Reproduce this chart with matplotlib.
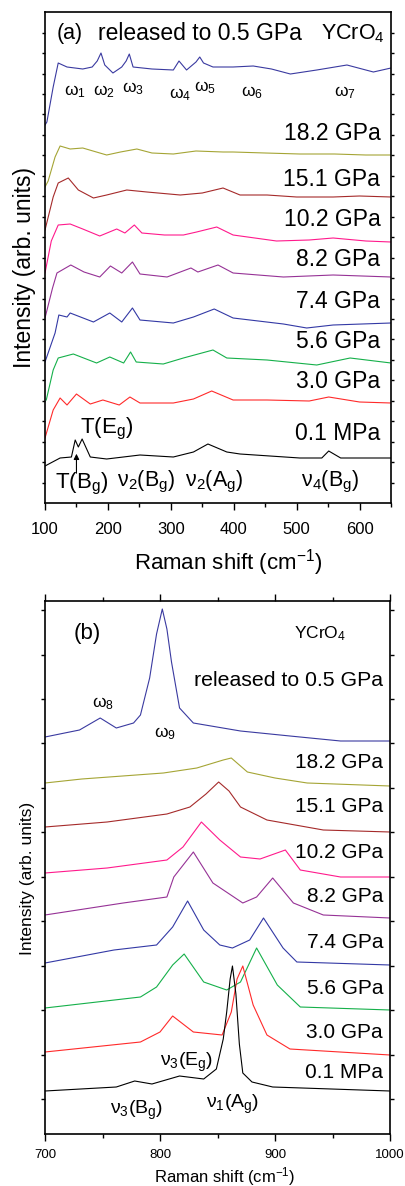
import matplotlib
matplotlib.use("Agg")
import matplotlib.pyplot as plt
from matplotlib.ticker import MultipleLocator, FixedLocator

plt.rcParams["font.family"] = ["Liberation Sans", "DejaVu Sans"]
plt.rcParams["mathtext.fontset"] = "custom"
plt.rcParams["mathtext.rm"] = "Liberation Sans"
plt.rcParams["mathtext.it"] = "Liberation Sans:italic"
plt.rcParams["mathtext.bf"] = "Liberation Sans:bold"

# ---- panel (a): low-frequency region, offset spectra (arb. units) ----
a_rel_x = [100, 103, 113, 121, 135, 160, 175, 183, 189, 195, 208, 222, 229, 234, 240, 270, 304, 313, 325, 340, 346, 352, 367, 399, 431, 460, 490, 532, 580, 622, 650]
a_rel_y = [378, 381, 416, 440, 436, 434, 436, 442, 450, 438, 430, 436, 442, 449, 436, 434, 433, 442, 433, 441, 446, 440, 436, 436, 437, 434, 429, 433, 438, 431, 435]
a_182_x = [100, 105, 116, 124, 140, 160, 198, 220, 246, 270, 304, 340, 383, 399, 450, 505, 560, 610, 650]
a_182_y = [316, 322, 346, 357, 354, 355, 348, 351, 354, 350, 349, 352, 351, 351, 350, 349, 349, 348, 348]
a_151_x = [100, 113, 121, 137, 153, 177, 198, 230, 262, 315, 350, 383, 410, 453, 500, 558, 600, 650]
a_151_y = [273, 306, 320, 325, 313, 305, 308, 313, 311, 308, 310, 315, 308, 308, 306, 306, 307, 306]
a_102_x = [100, 110, 121, 140, 160, 187, 214, 227, 242, 254, 290, 320, 341, 373, 399, 468, 520, 558, 610, 650]
a_102_y = [230, 262, 278, 279, 274, 267, 274, 270, 278, 270, 268, 268, 271, 276, 268, 262, 263, 265, 262, 261]
a_82_x = [100, 112, 119, 141, 162, 187, 204, 222, 239, 251, 294, 332, 343, 375, 399, 479, 558, 650]
a_82_y = [185, 215, 230, 238, 231, 226, 237, 230, 241, 229, 226, 235, 231, 238, 230, 226, 228, 226]
a_74_x = [100, 116, 122, 135, 140, 177, 203, 222, 239, 251, 304, 336, 369, 399, 479, 516, 558, 650]
a_74_y = [141, 170, 188, 186, 190, 181, 190, 181, 195, 183, 180, 186, 194, 185, 179, 175, 178, 180]
a_56_x = [102, 113, 121, 145, 182, 203, 225, 236, 245, 288, 320, 367, 389, 453, 532, 585, 650]
a_56_y = [103, 133, 145, 149, 140, 146, 140, 151, 141, 139, 145, 153, 145, 143, 138, 145, 140]
a_30_x = [100, 113, 124, 135, 150, 172, 192, 218, 235, 251, 304, 336, 365, 399, 453, 520, 551, 600, 650]
a_30_y = [65, 93, 105, 98, 109, 99, 103, 98, 106, 100, 100, 104, 112, 103, 103, 102, 106, 101, 100]
a_01_x = [100, 124, 142, 148, 153, 159, 172, 198, 251, 304, 336, 359, 389, 410, 505, 540, 551, 570, 650]
a_01_y = [37, 45, 46, 63, 56, 64, 46, 44, 48, 46, 51, 59, 51, 49, 45, 45, 52, 45, 45]

# ---- panel (b): stretching-mode region ----
b_rel_x = [700, 730, 748, 762, 777, 783, 791, 797, 802, 806, 810, 817, 829, 870, 913, 957, 1000]
b_rel_y = [397, 404, 416, 406, 411, 419, 456, 500, 525, 505, 472, 426, 411, 403, 398, 393, 393]
b_182_x = [700, 732, 803, 832, 855, 862, 876, 900, 928, 1000]
b_182_y = [351, 355, 361, 366, 374, 376, 362, 356, 351, 348]
b_151_x = [700, 754, 806, 826, 840, 851, 860, 870, 893, 942, 1000]
b_151_y = [307, 312, 320, 327, 340, 352, 343, 327, 314, 304, 302]
b_102_x = [700, 754, 806, 820, 836, 852, 870, 887, 909, 922, 957, 1000]
b_102_y = [261, 266, 274, 287, 312, 294, 277, 275, 284, 264, 257, 257]
b_82_x = [700, 768, 806, 812, 829, 846, 872, 884, 898, 916, 942, 1000]
b_82_y = [219, 231, 237, 257, 282, 251, 231, 237, 256, 231, 219, 216]
b_74_x = [700, 760, 797, 811, 824, 838, 852, 863, 878, 890, 907, 919, 1000]
b_74_y = [171, 184, 189, 207, 233, 204, 189, 186, 194, 216, 186, 172, 169]
b_56_x = [700, 783, 797, 811, 821, 838, 858, 870, 884, 902, 922, 1000]
b_56_y = [126, 137, 147, 169, 180, 152, 144, 152, 186, 149, 127, 124]
b_30_x = [700, 783, 800, 811, 829, 854, 862, 867, 872, 881, 893, 913, 1000]
b_30_y = [82, 92, 102, 118, 102, 99, 122, 155, 168, 129, 99, 85, 79]
b_01_x = [700, 762, 778, 793, 817, 838, 849, 855, 858, 861, 863, 866, 869, 872, 880, 898, 1000]
b_01_y = [43, 47, 53, 50, 58, 55, 65, 95, 122, 155, 168, 140, 90, 61, 52, 47, 43]

colors = ["#3a3aa0", "#a5a535", "#a52a2a", "#ff1a8c", "#963296", "#3339a5", "#15b04a", "#ff2a2a", "#000000"]
labels = ["18.2 GPa", "15.1 GPa", "10.2 GPa", "8.2 GPa", "7.4 GPa", "5.6 GPa", "3.0 GPa", "0.1 MPa"]

a_xs = [a_rel_x, a_182_x, a_151_x, a_102_x, a_82_x, a_74_x, a_56_x, a_30_x, a_01_x]
a_ys = [a_rel_y, a_182_y, a_151_y, a_102_y, a_82_y, a_74_y, a_56_y, a_30_y, a_01_y]
b_xs = [b_rel_x, b_182_x, b_151_x, b_102_x, b_82_x, b_74_x, b_56_x, b_30_x, b_01_x]
b_ys = [b_rel_y, b_182_y, b_151_y, b_102_y, b_82_y, b_74_y, b_56_y, b_30_y, b_01_y]

a_lab_y = [370, 323, 283, 243, 201, 161, 121, 70]
b_lab_y = [371, 327, 281, 237, 191, 146, 102, 62]

fig = plt.figure(figsize=(4.06, 11.86), dpi=100)
ax1 = fig.add_axes([45 / 406, 683 / 1186, 346 / 406, 491 / 1186])
ax2 = fig.add_axes([45 / 406, 52 / 1186, 345 / 406, 533 / 1186])

for x, y, c in zip(a_xs, a_ys, colors):
    ax1.plot(x, y, color=c, lw=0.8)
for x, y, c in zip(b_xs, b_ys, colors):
    ax2.plot(x, y, color=c, lw=0.8)

# panel (a) axes
ax1.set_xlim(100, 650)
ax1.set_ylim(0, 491)
ax1.xaxis.set_major_locator(MultipleLocator(100))
ax1.xaxis.set_minor_locator(MultipleLocator(50))
ax1.yaxis.set_major_locator(FixedLocator([20.45 * k for k in range(1, 24)]))
ax1.set_yticklabels([])
ax1.tick_params(axis="x", which="major", direction="out", length=5, width=1, labelsize=12, pad=9)
ax1.tick_params(axis="x", which="minor", direction="out", length=3, width=1)
ax1.tick_params(axis="y", direction="out", length=2.5, width=1, right=True)
ax1.set_xlabel("Raman shift (cm$^{-1}$)", fontsize=16)
ax1.xaxis.set_label_coords(0.529, -0.09)
ax1.set_ylabel("Intensity (arb. units)", fontsize=16.5)
ax1.yaxis.set_label_coords(-0.026, 0.479)
for s in ax1.spines.values():
    s.set_linewidth(1.2)

ax1.text(119, 469, "(a)", fontsize=15.5, va="center")
ax1.text(184, 469, "released to 0.5 GPa", fontsize=16.5, va="center")
ax1.text(640, 469, "YCrO$_4$", fontsize=15.5, va="center", ha="right")
for lab, y in zip(labels, a_lab_y):
    ax1.text(633, y, lab, fontsize=16.5, ha="right", va="center")

w_a = [("ω$_1$", 148, 411), ("ω$_2$", 194, 411), ("ω$_3$", 240, 414), ("ω$_4$", 315, 408),
       ("ω$_5$", 354, 415), ("ω$_6$", 429, 410), ("ω$_7$", 577, 410)]
for t, x, y in w_a:
    ax1.text(x, y, t, fontsize=12.5, ha="center", va="center")

ax1.text(156, 74, "T(E$_\\mathrm{g}$)", fontsize=16, va="center")
ax1.text(116, 19, "T(B$_\\mathrm{g}$)", fontsize=16, va="center")
ax1.annotate("", xy=(150, 52), xytext=(150, 27),
             arrowprops=dict(arrowstyle="-|>", color="black", lw=0.8, mutation_scale=8))
ax1.text(261, 21, "ν$_2$(B$_\\mathrm{g}$)", fontsize=15.5, ha="center", va="center")
ax1.text(369, 21, "ν$_2$(A$_\\mathrm{g}$)", fontsize=15.5, ha="center", va="center")
ax1.text(553, 21, "ν$_4$(B$_\\mathrm{g}$)", fontsize=15.5, ha="center", va="center")

# panel (b) axes
ax2.set_xlim(700, 1000)
ax2.set_ylim(0, 533)
ax2.xaxis.set_major_locator(MultipleLocator(100))
ax2.xaxis.set_minor_locator(MultipleLocator(50))
ax2.yaxis.set_major_locator(FixedLocator([35 + 44.45 * k for k in range(0, 12)]))
ax2.set_yticklabels([])
ax2.tick_params(axis="x", which="major", direction="out", length=5, width=1, labelsize=9.5, pad=6, top=True)
ax2.tick_params(axis="x", which="minor", direction="out", length=3, width=1, top=True)
ax2.tick_params(axis="y", direction="out", length=3, width=1, right=True)
ax2.set_xlabel("Raman shift (cm$^{-1}$)", fontsize=12)
ax2.xaxis.set_label_coords(0.522, -0.058)
ax2.set_ylabel("Intensity (arb. units)", fontsize=12.5)
ax2.yaxis.set_label_coords(-0.03, 0.48)
for s in ax2.spines.values():
    s.set_linewidth(1.2)

ax2.text(737, 500, "(b)", fontsize=16, ha="center", va="center")
ax2.text(939, 500, "YCrO$_4$", fontsize=12.5, ha="center", va="center")
ax2.text(994, 454, "released to 0.5 GPa", fontsize=15.3, ha="right", va="center")
for lab, y in zip(labels, b_lab_y):
    ax2.text(994, y, lab, fontsize=15, ha="right", va="center")
ax2.text(750, 430, "ω$_8$", fontsize=12.5, ha="center", va="center")
ax2.text(804, 400, "ω$_9$", fontsize=12.5, ha="center", va="center")
ax2.text(823, 72, "ν$_3$(E$_\\mathrm{g}$)", fontsize=14, ha="center", va="center")
ax2.text(780, 24, "ν$_3$(B$_\\mathrm{g}$)", fontsize=14, ha="center", va="center")
ax2.text(863, 30, "ν$_1$(A$_\\mathrm{g}$)", fontsize=14, ha="center", va="center")

fig.savefig("out.png", dpi=100)
